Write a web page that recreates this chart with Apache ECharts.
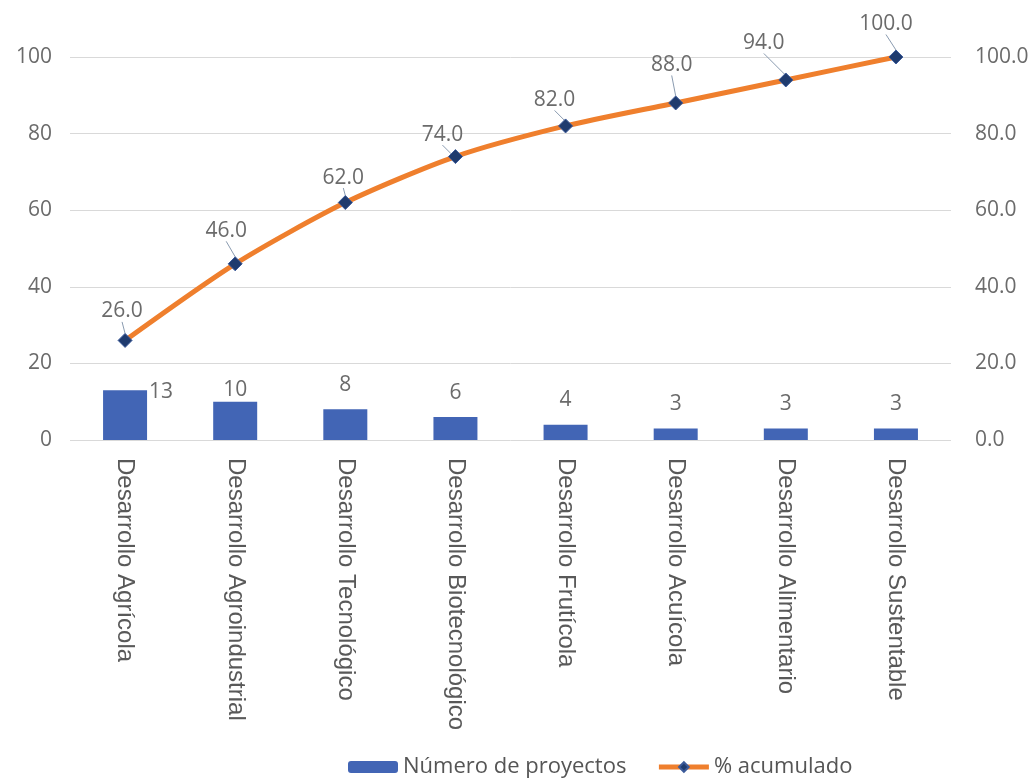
<!DOCTYPE html>
<html>
<head>
<meta charset="utf-8">
<style>
  html, body { margin: 0; padding: 0; background: #ffffff; }
  #chart { width: 1035px; height: 783px; }
</style>
<script src="https://cdn.jsdelivr.net/npm/echarts@6/dist/echarts.min.js"></script>
</head>
<body>
<div id="chart"></div>
<script>
// Projects per development area and their cumulative share (Pareto view)
const categories = [
  'Desarrollo Agrícola',
  'Desarrollo Agroindustrial',
  'Desarrollo Tecnológico',
  'Desarrollo Biotecnológico',
  'Desarrollo Frutícola',
  'Desarrollo Acuícola',
  'Desarrollo Alimentario',
  'Desarrollo Sustentable'
];
const projectCounts = [13, 10, 8, 6, 4, 3, 3, 3];
const cumulativePct = [26.0, 46.0, 62.0, 74.0, 82.0, 88.0, 94.0, 100.0];
const leftTicks = [0, 20, 40, 60, 80, 100];
const rightTicks = [0, 20, 40, 60, 80, 100];

// Nudges for the cumulative labels so they sit beside the curve
const pctLabelShift = [
  [-3, -6], [-9, -10], [-2, -2], [-13, 1],
  [-11, -3], [-4, -15], [-22, -14], [-10, -10]
];

const textGray = '#6b6b6b';
const valueFont = '"Open Sans", "Noto Sans", sans-serif';

const barData = projectCounts.map((v, i) => {
  const item = { value: v };
  if (i === 0) {
    item.label = { position: 'right', distance: 2, offset: [0, -23] };
  } else if (i === 1) {
    item.label = { distance: 1 };
  }
  return item;
});

const chart = echarts.init(document.getElementById('chart'), null, { renderer: 'canvas' });

chart.setOption({
  backgroundColor: '#ffffff',
  animation: false,
  grid: { left: 70, right: 84, top: 57, bottom: 343, containLabel: false },
  legend: {
    bottom: 0,
    left: 343,
    itemGap: 30,
    itemWidth: 50,
    itemHeight: 12,
    lineStyle: { width: 5 },
    textStyle: { color: '#555555', fontSize: 22, fontFamily: valueFont },
    data: ['Número de proyectos', '% acumulado']
  },
  xAxis: {
    type: 'category',
    data: categories,
    axisLine: { show: false },
    axisTick: { show: false },
    axisLabel: {
      rotate: -90,
      interval: 0,
      margin: 18,
      color: '#595959',
      fontSize: 24,
      fontFamily: '"Liberation Sans", Arial, sans-serif'
    }
  },
  yAxis: [
    {
      type: 'value',
      min: leftTicks[0],
      max: leftTicks[leftTicks.length - 1],
      interval: leftTicks[1] - leftTicks[0],
      axisLine: { show: false },
      axisTick: { show: false },
      axisLabel: { color: textGray, fontSize: 21, margin: 18, fontFamily: valueFont },
      splitLine: { lineStyle: { color: '#d9d9d9', width: 1 } }
    },
    {
      type: 'value',
      position: 'right',
      min: rightTicks[0],
      max: rightTicks[rightTicks.length - 1],
      interval: rightTicks[1] - rightTicks[0],
      axisLine: { show: false },
      axisTick: { show: false },
      splitLine: { show: false },
      axisLabel: {
        color: textGray,
        fontSize: 21,
        margin: 24,
        fontFamily: valueFont,
        formatter: v => v.toFixed(1)
      }
    }
  ],
  series: [
    {
      name: 'Número de proyectos',
      type: 'bar',
      yAxisIndex: 0,
      barWidth: 44,
      data: barData,
      itemStyle: { color: '#4265b5' },
      label: {
        show: true,
        position: 'top',
        distance: 14,
        color: textGray,
        fontSize: 21,
        fontFamily: valueFont
      }
    },
    {
      name: '% acumulado',
      type: 'line',
      yAxisIndex: 1,
      data: cumulativePct,
      smooth: 0.25,
      symbol: 'diamond',
      symbolSize: 14,
      lineStyle: { color: '#ef7f2d', width: 5 },
      itemStyle: { color: '#1f3b6e', borderColor: '#3b5a9a', borderWidth: 1 },
      z: 5,
      label: {
        show: true,
        position: 'top',
        distance: 5,
        color: textGray,
        fontSize: 21,
        fontFamily: valueFont,
        formatter: p => p.value.toFixed(1)
      },
      labelLine: {
        show: true,
        lineStyle: { color: '#8a9bb0', width: 1 }
      },
      labelLayout: p => {
        const s = pctLabelShift[p.dataIndex];
        return { dx: s[0], dy: s[1] };
      }
    }
  ]
});
</script>
</body>
</html>
